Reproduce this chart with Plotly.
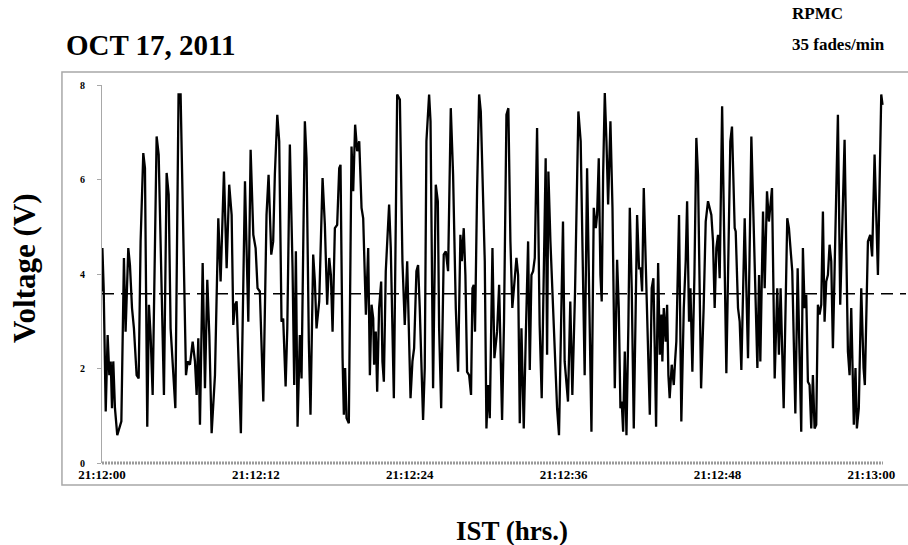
import plotly.graph_objects as go
import pandas as pd

# seconds after 21:12:00 and voltage at each turning point of the trace
seconds = [
    0.00, 0.03, 0.13, 0.29, 0.44, 0.57, 0.68, 0.78, 0.88, 1.01,
    1.19, 1.35, 1.51, 1.71, 1.84, 2.05, 2.18, 2.34, 2.49, 2.70,
    2.86, 3.01, 3.22, 3.35, 3.53, 3.66, 3.79, 3.95, 4.26, 4.42,
    4.83, 5.04, 5.20, 5.35, 5.51, 5.72, 5.97, 6.13, 6.55, 6.68,
    6.86, 7.07, 7.25, 7.38, 7.51, 7.64, 7.85, 8.03, 8.21, 8.37,
    8.55, 8.81, 9.07, 9.25, 9.51, 9.72, 9.92, 10.11, 10.24, 10.37,
    10.50, 10.68, 10.83, 11.15, 11.41, 11.59, 11.80, 11.98, 12.13, 12.31,
    12.45, 12.58, 12.83, 12.99, 13.20, 13.35, 13.48, 13.67, 13.82, 14.00,
    14.13, 14.32, 14.45, 14.65, 14.86, 14.99, 15.12, 15.25, 15.43, 15.56,
    15.82, 15.95, 16.13, 16.26, 16.47, 16.60, 16.73, 16.94, 17.20, 17.38,
    17.56, 17.72, 17.85, 17.98, 18.16, 18.34, 18.50, 18.60, 18.76, 18.86,
    18.96, 19.07, 19.25, 19.46, 19.59, 19.74, 19.90, 20.06, 20.24, 20.37,
    20.58, 20.76, 20.89, 21.02, 21.15, 21.22, 21.35, 21.46, 21.61, 21.77,
    21.87, 21.98, 22.13, 22.39, 22.52, 22.76, 23.02, 23.23, 23.43, 23.61,
    23.80, 23.95, 24.06, 24.21, 24.34, 24.52, 24.65, 24.78, 25.04, 25.17,
    25.30, 25.51, 25.62, 25.82, 26.03, 26.19, 26.29, 26.45, 26.65, 26.81,
    26.99, 27.20, 27.38, 27.59, 27.77, 27.95, 28.06, 28.21, 28.34, 28.47,
    28.63, 28.78, 28.89, 28.99, 29.09, 29.25, 29.41, 29.54, 29.72, 29.85,
    29.98, 30.11, 30.24, 30.45, 30.60, 30.71, 30.81, 30.97, 31.07, 31.20,
    31.35, 31.54, 31.69, 31.85, 32.00, 32.16, 32.32, 32.45, 32.58, 32.71,
    32.89, 33.04, 33.23, 33.36, 33.49, 33.62, 33.75, 33.93, 34.13, 34.29,
    34.45, 34.60, 34.71, 34.81, 34.97, 35.17, 35.33, 35.49, 35.64, 35.82,
    35.95, 36.08, 36.21, 36.34, 36.52, 36.68, 36.89, 37.15, 37.33, 37.51,
    37.64, 37.83, 38.04, 38.17, 38.35, 38.51, 38.61, 38.74, 38.87, 38.97,
    39.08, 39.21, 39.34, 39.47, 39.65, 39.81, 39.99, 40.17, 40.30, 40.43,
    40.53, 40.64, 40.77, 40.90, 41.05, 41.16, 41.31, 41.47, 41.62, 41.73,
    41.88, 42.01, 42.12, 42.25, 42.40, 42.59, 42.72, 42.87, 43.00, 43.13,
    43.21, 43.29, 43.37, 43.50, 43.63, 43.70, 43.81, 43.96, 44.07, 44.17,
    44.27, 44.43, 44.59, 44.69, 44.79, 45.00, 45.18, 45.37, 45.52, 45.63,
    45.78, 45.89, 46.04, 46.20, 46.35, 46.48, 46.61, 46.72, 46.92, 47.08,
    47.26, 47.52, 47.65, 47.78, 47.91, 48.04, 48.17, 48.36, 48.69, 49.00,
    49.13, 49.34, 49.42, 49.60, 49.73, 49.86, 50.12, 50.38, 50.64, 51.11,
    51.24, 51.34, 51.55, 51.68, 51.86, 52.01, 52.25, 52.46, 52.66, 52.79,
    52.92, 53.04, 53.16, 53.44, 53.57, 53.83, 54.07, 54.25, 54.53, 54.66,
    54.79, 54.92, 55.05, 55.18, 55.31, 55.44, 55.57, 55.70, 55.83, 55.96,
    56.09, 56.22, 56.35, 56.48, 56.61, 56.74, 56.87, 57.00, 57.39, 57.57,
    57.91, 58.17, 58.30, 58.43, 58.56, 58.63, 58.76, 58.87, 59.02, 59.21,
    59.39, 59.49, 59.73, 59.91, 60.06, 60.25, 60.51, 60.77, 60.87,
]
volts = [
    3.63, 4.55, 3.70, 1.09, 2.71, 1.86, 2.15, 1.16, 2.15, 1.16,
    0.59, 0.73, 0.88, 4.34, 2.78, 4.55, 4.19, 3.28, 2.85, 1.86,
    1.79, 4.69, 6.56, 6.24, 0.77, 3.35, 2.71, 1.44, 6.91, 6.53,
    1.44, 6.14, 5.68, 2.85, 2.08, 1.16, 7.80, 7.80, 1.86, 2.15,
    2.08, 2.57, 2.15, 1.44, 2.64, 0.81, 4.23, 1.58, 3.88, 2.71,
    0.63, 1.86, 5.18, 3.84, 6.17, 4.12, 5.89, 5.25, 2.92, 3.35,
    3.42, 1.97, 0.63, 5.96, 2.99, 6.63, 4.83, 4.55, 3.70, 3.63,
    2.15, 1.30, 5.25, 6.10, 4.41, 4.69, 6.10, 7.37, 6.81, 2.99,
    3.06, 1.62, 2.85, 6.74, 4.12, 1.65, 4.48, 0.77, 2.71, 1.79,
    7.23, 6.45, 2.57, 1.02, 4.41, 3.84, 2.85, 3.42, 6.03, 5.04,
    3.35, 4.34, 3.98, 2.78, 4.97, 5.04, 6.24, 6.31, 2.22, 1.02,
    2.01, 0.95, 0.84, 6.70, 5.75, 7.16, 6.60, 6.81, 5.40, 5.18,
    3.14, 4.55, 1.86, 3.35, 3.06, 2.08, 2.78, 1.51, 3.28, 3.84,
    2.15, 1.72, 4.06, 5.47, 4.55, 1.37, 7.80, 7.69, 4.27, 2.92,
    4.27, 2.50, 1.37, 2.15, 2.43, 4.06, 4.19, 3.28, 0.91, 2.01,
    6.81, 7.80, 7.23, 1.58, 5.89, 5.54, 2.85, 1.16, 4.41, 4.48,
    4.06, 7.51, 6.10, 3.28, 1.93, 4.83, 4.27, 4.97, 3.98, 1.93,
    1.86, 1.44, 3.70, 3.77, 2.78, 5.75, 7.80, 7.44, 5.40, 4.27,
    0.73, 1.65, 0.95, 4.55, 2.22, 2.57, 2.78, 3.77, 2.78, 0.91,
    2.99, 7.37, 7.51, 4.69, 3.28, 3.77, 4.34, 3.98, 0.84, 2.85,
    0.73, 2.57, 4.69, 1.97, 3.98, 4.06, 4.34, 7.09, 2.92, 1.37,
    3.98, 6.45, 2.29, 6.17, 4.69, 3.35, 2.36, 1.16, 0.59, 3.21,
    5.11, 2.15, 1.65, 1.30, 3.42, 1.44, 3.63, 7.44, 6.81, 3.28,
    1.86, 6.24, 3.28, 0.66, 5.40, 4.97, 5.25, 6.45, 3.98, 3.42,
    6.10, 7.83, 6.81, 5.47, 7.23, 5.40, 1.58, 4.30, 3.28, 1.16,
    1.30, 0.66, 2.36, 0.59, 2.92, 5.40, 3.70, 0.73, 3.28, 5.25,
    4.12, 4.12, 3.63, 5.82, 4.27, 2.57, 1.02, 3.70, 3.91, 2.08,
    0.77, 2.57, 4.23, 2.29, 3.14, 2.15, 3.28, 2.57, 3.35, 1.86,
    1.37, 2.08, 1.65, 2.15, 2.57, 5.25, 0.88, 3.28, 4.27, 5.54,
    2.99, 3.70, 1.93, 3.98, 6.88, 6.10, 2.99, 1.58, 3.28, 5.11,
    5.54, 5.25, 4.69, 3.28, 4.55, 4.83, 3.91, 7.55, 1.90, 6.81,
    7.12, 4.97, 4.90, 3.28, 2.99, 1.97, 5.18, 2.22, 6.91, 2.01,
    3.98, 2.15, 5.32, 3.70, 5.75, 5.11, 5.82, 1.79, 3.70, 2.29,
    3.70, 2.15, 1.16, 5.18, 4.97, 4.06, 1.05, 4.12, 0.66, 4.55,
    3.28, 3.56, 1.72, 1.65, 0.73, 1.86, 0.73, 0.81, 3.35, 3.14,
    3.35, 5.32, 2.99, 3.84, 3.98, 4.62, 4.27, 2.43, 7.37, 3.35,
    6.84, 2.36, 1.86, 3.28, 1.30, 0.81, 2.01, 0.73, 1.16, 3.70,
    2.01, 1.65, 4.69, 4.83, 4.37, 6.53, 3.98, 7.80, 7.58,
]
assert len(seconds) == len(volts)

mean_level = 3.58          # dashed threshold line (V)
window_end = 62.7          # seconds shown on the x axis
y_ticks = [0, 2, 4, 6, 8]

start = pd.Timestamp("2011-10-17 21:12:00")
times = start + pd.to_timedelta(seconds, unit="s")
end = start + pd.Timedelta(seconds=window_end)

serif = "Liberation Serif, Times New Roman, serif"
grey = "#a8a8a8"

fig = go.Figure()
fig.add_trace(go.Scatter(x=times, y=volts, mode="lines",
                         line=dict(color="black", width=2.3)))
fig.add_trace(go.Scatter(x=[start, end], y=[mean_level, mean_level], mode="lines",
                         line=dict(color="black", width=1.5, dash="12px,7px")))

fig.update_layout(
    width=908, height=545,
    margin=dict(l=102, r=2, t=85, b=82),
    paper_bgcolor="white", plot_bgcolor="white",
    showlegend=False,
    font=dict(family=serif, color="black"),
)
fig.update_xaxes(
    type="date", range=[start, end],
    tick0=start, dtick=12000, tickformat="%H:%M:%S",
    showgrid=False, zeroline=False, showline=False, ticks="",
    ticklabelstandoff=2,
    tickfont=dict(family=serif, size=13, weight="bold"),
)
fig.update_yaxes(
    range=[0, 8], tickvals=y_ticks,
    showgrid=False, zeroline=False,
    showline=True, linecolor=grey, linewidth=1,
    ticks="outside", ticklen=4, tickcolor=grey,
    ticklabelstandoff=10,
    tickfont=dict(family=serif, size=10, weight="bold"),
)

# outer frame and dotted category axis
fig.add_shape(type="rect", xref="paper", yref="paper",
              x0=-0.0498, x1=1.02, y0=-0.0582, y1=1.0344,
              line=dict(color=grey, width=1.5), layer="below")
fig.add_shape(type="line", xref="paper", yref="paper",
              x0=0, x1=0.9714, y0=0, y1=0,
              line=dict(color="#9a9a9a", width=3, dash="2px,1px"))

big = dict(family=serif, size=29, color="black", weight="bold")
small = dict(family=serif, size=17, color="black", weight="bold")
fig.add_annotation(text="OCT 17, 2011", x=-0.047, y=1.106, xref="paper", yref="paper",
                   xanchor="left", yanchor="middle", showarrow=False, font=big)
fig.add_annotation(text="RPMC", x=0.8557, y=1.188, xref="paper", yref="paper",
                   xanchor="left", yanchor="middle", showarrow=False, font=small)
fig.add_annotation(text="35 fades/min", x=0.8557, y=1.106, xref="paper", yref="paper",
                   xanchor="left", yanchor="middle", showarrow=False, font=small)
fig.add_annotation(text="Voltage (V)", x=-0.0958, y=0.516, xref="paper", yref="paper",
                   textangle=-90, xanchor="center", yanchor="middle",
                   showarrow=False, font=dict(big, size=31))
fig.add_annotation(text="IST (hrs.)", x=0.51, y=-0.18, xref="paper", yref="paper",
                   xanchor="center", yanchor="middle", showarrow=False,
                   font=dict(big, size=27))

# the page is photographed at exactly the figure size, so drop the default body margin
fig.write_html("out.html", config={"displayModeBar": False},
               post_script="document.body.style.margin='0';")
